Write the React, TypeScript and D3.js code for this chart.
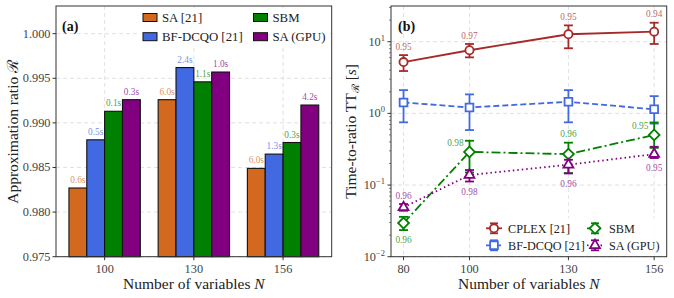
import React from "react";
import * as d3 from "d3";

// ---- panel (a) data ----
const sizesA = ["100", "130", "156"];
const seriesA = ["SA [21]", "BF-DCQO [21]", "SBM", "SA (GPU)"];
const saRatio = [0.9827, 0.9926, 0.9849];
const bfRatio = [0.9881, 0.9962, 0.9865];
const sbmRatio = [0.9913, 0.9946, 0.9878];
const gpuRatio = [0.9926, 0.9957, 0.992];
const saTime = ["0.6s", "6.0s", "6.0s"];
const bfTime = ["0.5s", "2.4s", "1.3s"];
const sbmTime = ["0.1s", "1.1s", "0.3s"];
const gpuTime = ["0.3s", "1.0s", "4.2s"];
const ticksA = [0.975, 0.98, 0.985, 0.99, 0.995, 1.0];

// ---- panel (b) data ----
const sizesB = [80, 100, 130, 156];
const cplexTTR = [5.2, 7.6, 12.7, 13.8];
const cplexLow = [3.9, 6.05, 8.1, 9.3];
const cplexHigh = [6.5, 9.3, 16.9, 18.4];
const cplexR = ["0.95", "0.97", "0.95", "0.94"];
const bfTTR = [1.42, 1.21, 1.45, 1.14];
const bfLow = [0.75, 0.585, 0.75, 0.72];
const bfHigh = [2.11, 1.84, 2.11, 1.74];
const sbmTTR = [0.0295, 0.29, 0.27, 0.5];
const sbmLow = [0.0235, 0.15, 0.147, 0.33];
const sbmHigh = [0.036, 0.415, 0.39, 0.746];
const sbmR = ["0.96", "0.98", "0.96", "0.95"];
const gpuTTR = [0.0488, 0.138, 0.192, 0.27];
const gpuLow = [0.0438, 0.112, 0.145, 0.238];
const gpuHigh = [0.0543, 0.162, 0.225, 0.342];
const gpuR = ["0.96", "0.98", "0.96", "0.95"];
const decadesB = [-2, -1, 0, 1];

const FONT = "'Liberation Serif', 'DejaVu Serif', serif";
const INK = "#333";
const GRID = "#d4d4d4";

const COL = {
  sa: "#D2691E",
  bf: "#4169E1",
  sbm: "#008000",
  gpu: "#800080",
  cplex: "#A52A2A",
};

// panel geometry
const A = { left: 56, right: 331.7, top: 6, bottom: 256.7 };
const B = { left: 391, right: 666.7, top: 6, bottom: 256.7 };

const barSeries = [
  { name: seriesA[0], values: saRatio, times: saTime, color: COL.sa },
  { name: seriesA[1], values: bfRatio, times: bfTime, color: COL.bf },
  { name: seriesA[2], values: sbmRatio, times: sbmTime, color: COL.sbm },
  { name: seriesA[3], values: gpuRatio, times: gpuTime, color: COL.gpu },
];

const lineSeries = [
  { name: "CPLEX [21]", v: cplexTTR, lo: cplexLow, hi: cplexHigh, lab: cplexR, place: ["above", "above", "above", "above"], color: COL.cplex, dash: null, sym: d3.symbolCircle, size: 52, rot: 0 },
  { name: "BF-DCQO [21]", v: bfTTR, lo: bfLow, hi: bfHigh, lab: null, place: null, color: COL.bf, dash: "6,3", sym: d3.symbolSquare, size: 60, rot: 0 },
  { name: "SBM", v: sbmTTR, lo: sbmLow, hi: sbmHigh, lab: sbmR, place: ["below", "upleft", "above", "upleft"], color: COL.sbm, dash: "9,3,2,3", sym: d3.symbolSquare, size: 58, rot: 45 },
  { name: "SA (GPU)", v: gpuTTR, lo: gpuLow, hi: gpuHigh, lab: gpuR, place: ["above", "below", "below", "below"], color: COL.gpu, dash: "1.5,3", sym: d3.symbolTriangle, size: 42, rot: 0 },
];

function PanelA() {
  const x = d3.scaleBand().domain(sizesA).range([A.left, A.right]).paddingInner(0).paddingOuter(0.045);
  const y = d3.scaleLinear().domain([0.975, 1.0031]).range([A.bottom, A.top]);
  const inner = d3.scaleBand().domain(seriesA).range([-0.4 * x.bandwidth(), 0.4 * x.bandwidth()]);
  const cx = (c: string) => (x(c) as number) + x.bandwidth() / 2;

  return (
    <g>
      {/* grid */}
      {ticksA.map((t) => (
        <line key={"gy" + t} x1={A.left} x2={A.right} y1={y(t)} y2={y(t)} stroke={GRID} strokeWidth={0.7} strokeDasharray="4,3" />
      ))}
      {sizesA.map((c) => (
        <line key={"gx" + c} x1={cx(c)} x2={cx(c)} y1={A.top} y2={A.bottom} stroke={GRID} strokeWidth={0.7} strokeDasharray="4,3" />
      ))}
      {/* bars */}
      {barSeries.map((s) =>
        sizesA.map((c, i) => {
          const bx = cx(c) + (inner(s.name) as number);
          const top = y(s.values[i]);
          return (
            <g key={s.name + c}>
              <rect x={bx} y={top} width={inner.bandwidth()} height={A.bottom - top} fill={s.color} stroke="#111" strokeWidth={1.1} />
              <text x={bx + inner.bandwidth() / 2} y={top - 5} fontSize={9.3} textAnchor="middle" fill={s.color} fillOpacity={0.75} fontFamily={FONT}>
                {s.times[i]}
              </text>
            </g>
          );
        })
      )}
      {/* legend */}
      <rect x={138} y={8} width={192} height={39} fill="white" fillOpacity={0.85} />
      {barSeries.map((s, i) => {
        const yy = i % 2 === 0 ? 17.5 : 36.7;
        const xx = i < 2 ? 143 : 253.5;
        return (
          <g key={"lg" + s.name}>
            <rect x={xx} y={yy - 4} width={14} height={8} fill={s.color} stroke="#111" strokeWidth={1} />
            <text x={xx + 19} y={yy + 4.5} fontSize={12.8} fill="#222" fontFamily={FONT}>
              {s.name}
            </text>
          </g>
        );
      })}
      {/* frame */}
      <rect x={A.left} y={A.top} width={A.right - A.left} height={A.bottom - A.top} fill="none" stroke={INK} strokeWidth={1} />
      {ticksA.map((t) => (
        <g key={"ty" + t}>
          <line x1={A.left - 3.5} x2={A.left} y1={y(t)} y2={y(t)} stroke={INK} />
          <text x={A.left - 5.5} y={y(t) + 4} fontSize={12.3} textAnchor="end" fill="#444" fontFamily={FONT}>
            {d3.format(".3f")(t)}
          </text>
        </g>
      ))}
      {sizesA.map((c) => (
        <g key={"tx" + c}>
          <line x1={cx(c)} x2={cx(c)} y1={A.bottom} y2={A.bottom + 3.5} stroke={INK} />
          <text x={cx(c)} y={272.5} fontSize={12.3} textAnchor="middle" fill="#444" fontFamily={FONT}>
            {c}
          </text>
        </g>
      ))}
      <text x={(A.left + A.right) / 2} y={289} fontSize={15.5} textAnchor="middle" fill="#222" fontFamily={FONT}>
        Number of variables <tspan fontStyle="italic">N</tspan>
      </text>
      <text transform={`translate(18,${(A.top + A.bottom) / 2}) rotate(-90)`} fontSize={15.5} textAnchor="middle" fill="#222" fontFamily={FONT}>
        Approximation ratio ℛ
      </text>
      <text x={62} y={31} fontSize={14} fontWeight="bold" fill="#111" fontFamily={FONT}>
        (a)
      </text>
    </g>
  );
}

function Marker({ s, px, py }: { s: any; px: number; py: number }) {
  const path = d3.symbol().type(s.sym).size(s.size)() as string;
  return (
    <path d={path} transform={`translate(${px},${py}) rotate(${s.rot})`} fill="white" stroke={s.color} strokeWidth={1.8} />
  );
}

function PanelB() {
  const x = d3.scaleLinear().domain([76.2, 159.8]).range([B.left, B.right]);
  const y = d3.scaleLog().domain([0.01, 31.5]).range([B.bottom, B.top]);
  const line = d3
    .line<number>()
    .x((_, i) => x(sizesB[i]))
    .y((d) => y(d));
  const minor: number[] = [];
  decadesB.forEach((e) => {
    for (let k = 2; k <= 9; k++) {
      const v = k * Math.pow(10, e);
      if (v <= 31.5) minor.push(v);
    }
  });

  return (
    <g>
      {decadesB.map((e) => (
        <line key={"gy" + e} x1={B.left} x2={B.right} y1={y(Math.pow(10, e))} y2={y(Math.pow(10, e))} stroke={GRID} strokeWidth={0.7} strokeDasharray="4,3" />
      ))}
      {sizesB.map((n) => (
        <line key={"gx" + n} x1={x(n)} x2={x(n)} y1={B.top} y2={B.bottom} stroke={GRID} strokeWidth={0.7} strokeDasharray="4,3" />
      ))}
      {lineSeries.map((s) => (
        <g key={s.name}>
          <path d={line(s.v) as string} fill="none" stroke={s.color} strokeWidth={1.8} strokeDasharray={s.dash || undefined} />
          {s.v.map((v: number, i: number) => {
            const px = x(sizesB[i]);
            return (
              <g key={i}>
                <line x1={px} x2={px} y1={y(s.lo[i])} y2={y(s.hi[i])} stroke={s.color} strokeWidth={1.8} />
                <line x1={px - 4.5} x2={px + 4.5} y1={y(s.lo[i])} y2={y(s.lo[i])} stroke={s.color} strokeWidth={1.8} />
                <line x1={px - 4.5} x2={px + 4.5} y1={y(s.hi[i])} y2={y(s.hi[i])} stroke={s.color} strokeWidth={1.8} />
                <Marker s={s} px={px} py={y(v)} />
              </g>
            );
          })}
          {s.lab &&
            s.v.map((v: number, i: number) => {
              const px = x(sizesB[i]);
              const p = s.place[i];
              let tx = px;
              let ty = y(v);
              if (p === "above") ty = y(s.hi[i]) - 8.5;
              if (p === "below") ty = y(s.lo[i]) + 10;
              if (p === "upleft") {
                tx = px - 14;
                ty = y(v) - 9;
              }
              return (
                <text key={"l" + i} x={tx} y={ty + 3.2} fontSize={9.3} textAnchor="middle" fill={s.color} fillOpacity={0.75} fontFamily={FONT}>
                  {s.lab[i]}
                </text>
              );
            })}
        </g>
      ))}
      {/* legend */}
      <rect x={482} y={218} width={182} height={36} fill="white" fillOpacity={0.85} />
      {lineSeries.map((s, i) => {
        const xx = i < 2 ? 494 : 595;
        const yy = i % 2 === 0 ? 228.3 : 245.3;
        return (
          <g key={"lg" + s.name}>
            <line x1={xx - 8} x2={xx + 8} y1={yy} y2={yy} stroke={s.color} strokeWidth={1.8} strokeDasharray={s.dash || undefined} />
            <line x1={xx} x2={xx} y1={yy - 5} y2={yy + 5} stroke={s.color} strokeWidth={1.8} />
            <line x1={xx - 4} x2={xx + 4} y1={yy - 5} y2={yy - 5} stroke={s.color} strokeWidth={1.8} />
            <line x1={xx - 4} x2={xx + 4} y1={yy + 5} y2={yy + 5} stroke={s.color} strokeWidth={1.8} />
            <Marker s={s} px={xx} py={yy} />
            <text x={xx + 14} y={yy + 4.4} fontSize={12.2} fill="#222" fontFamily={FONT}>
              {s.name}
            </text>
          </g>
        );
      })}
      <rect x={B.left} y={B.top} width={B.right - B.left} height={B.bottom - B.top} fill="none" stroke={INK} strokeWidth={1} />
      {minor.map((m) => (
        <line key={"mn" + m} x1={B.left - 2} x2={B.left} y1={y(m)} y2={y(m)} stroke={INK} strokeWidth={0.6} />
      ))}
      {decadesB.map((e) => (
        <g key={"ty" + e}>
          <line x1={B.left - 3.5} x2={B.left} y1={y(Math.pow(10, e))} y2={y(Math.pow(10, e))} stroke={INK} />
          <text x={B.left - 6} y={y(Math.pow(10, e)) + 4} fontSize={12.3} textAnchor="end" fill="#444" fontFamily={FONT}>
            10
            <tspan fontSize={8.5} dy={-5}>
              {e < 0 ? "−" + Math.abs(e) : String(e)}
            </tspan>
          </text>
        </g>
      ))}
      {sizesB.map((n) => (
        <g key={"tx" + n}>
          <line x1={x(n)} x2={x(n)} y1={B.bottom} y2={B.bottom + 3.5} stroke={INK} />
          <text x={x(n)} y={272.5} fontSize={12.3} textAnchor="middle" fill="#444" fontFamily={FONT}>
            {n}
          </text>
        </g>
      ))}
      <text x={(B.left + B.right) / 2} y={289} fontSize={15.5} textAnchor="middle" fill="#222" fontFamily={FONT}>
        Number of variables <tspan fontStyle="italic">N</tspan>
      </text>
      <text transform={`translate(356,${(B.top + B.bottom) / 2}) rotate(-90)`} fontSize={15.5} textAnchor="middle" fill="#222" fontFamily={FONT}>
        Time-to-ratio TT
        <tspan fontSize={10.5} dy={3}>ℛ</tspan>
        <tspan dy={-3}> [</tspan>
        <tspan fontStyle="italic">s</tspan>]
      </text>
      <text x={398} y={31} fontSize={14} fontWeight="bold" fill="#111" fontFamily={FONT}>
        (b)
      </text>
    </g>
  );
}

export default function App() {
  return (
    <svg width={674} height={298} style={{ position: "absolute", left: 0, top: 0, background: "white" }}>
      <PanelA />
      <PanelB />
    </svg>
  );
}
